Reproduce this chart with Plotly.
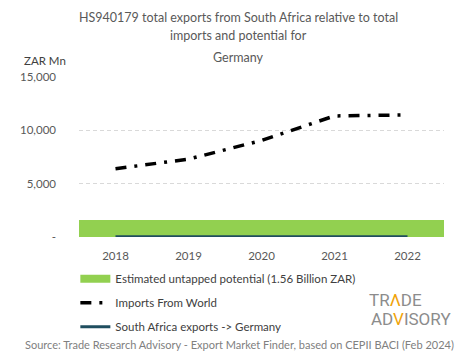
import plotly.graph_objects as go

years = ["2018", "2019", "2020", "2021", "2022"]
imports_world = [6400, 7300, 9050, 11350, 11450]
sa_exports = [20, 25, 35, 40, 35]
untapped_potential = [1560, 1560, 1560, 1560, 1560]

ytick_vals = [0, 5000, 10000, 15000]
ytick_text = ["-", "5,000", "10,000", "15,000"]

title_lines = [
    "HS940179 total exports from South Africa relative to total",
    "imports and potential for",
    "Germany",
]

FONT = "Lato"
GREEN = "#92D050"
TEAL = "#1F4E5F"

# page has an 8px body margin; figure is laid out in (reference - 8px) coords
PX0, PY0, PW, PH = 68, 237, 376, 160  # plot area in reference pixels (left, bottom, w, h)


def px(x):
    return (x - PX0) / PW


def py(y):
    return (PY0 - y) / PH


fig = go.Figure()

fig.add_trace(go.Bar(
    x=years, y=untapped_potential, width=1,
    marker=dict(color=GREEN, line=dict(width=0)),
    name="Estimated untapped potential (1.56 Billion ZAR)",
    showlegend=False, legendgroup="g1", hoverinfo="skip",
))
fig.add_trace(go.Scatter(
    x=[None], y=[None], mode="lines",
    line=dict(color=GREEN, width=8),
    name="Estimated untapped potential (1.56 Billion ZAR)",
    legendgroup="g1",
))
fig.add_trace(go.Scatter(
    x=years, y=imports_world, mode="lines",
    line=dict(color="black", width=3.5, dash="11px,8px,3px,8px"),
    name="Imports From World", legendgroup="g2",
))
fig.add_trace(go.Scatter(
    x=years, y=sa_exports, mode="lines",
    line=dict(color=TEAL, width=3),
    name="South Africa exports -> Germany", legendgroup="g3",
))

annotations = []
# first title line anchored at the very top of the figure so it is not clipped
annotations.append(dict(
    text=title_lines[0], xref="paper", yref="paper",
    x=px(232), y=py(8.5),
    xanchor="center", yanchor="top", showarrow=False,
    font=dict(family=FONT, size=12.5, color="#595959"),
))
for t, yy in zip(title_lines[1:], [35, 57]):
    annotations.append(dict(
        text=t, xref="paper", yref="paper",
        x=px(232), y=py(yy),
        xanchor="center", yanchor="middle", showarrow=False,
        font=dict(family=FONT, size=12.5, color="#595959"),
    ))
annotations.append(dict(
    text="ZAR Mn", xref="paper", yref="paper",
    x=px(9), y=py(60),
    xanchor="left", yanchor="middle", showarrow=False,
    font=dict(family=FONT, size=11.5, color="#404040"),
))
annotations.append(dict(
    text="Source: Trade Research Advisory - Export Market Finder, based on CEPII BACI (Feb 2024)",
    xref="paper", yref="paper",
    x=px(233), y=py(344),
    xanchor="center", yanchor="middle", showarrow=False,
    font=dict(family=FONT, size=11, color="#808080"),
))
annotations.append(dict(
    text="TR<span style='color:#F0A30A'>Λ</span>DE",
    xref="paper", yref="paper",
    x=px(365), y=py(300),
    xanchor="left", yanchor="middle", showarrow=False,
    font=dict(family="Roboto", size=17, color="#8C8C8C"),
))
annotations.append(dict(
    text="AD<span style='color:#F0A30A'>V</span>ISORY",
    xref="paper", yref="paper",
    x=px(367), y=py(319),
    xanchor="left", yanchor="middle", showarrow=False,
    font=dict(family="Roboto", size=17, color="#8C8C8C"),
))

fig.update_layout(
    width=457, height=351,
    margin=dict(l=60, r=21, t=69, b=122),
    paper_bgcolor="white", plot_bgcolor="white",
    font=dict(family=FONT, size=11, color="#595959"),
    bargap=0,
    showlegend=True,
    legend=dict(
        x=-0.01, y=-0.17, xanchor="left", yanchor="top",
        traceorder="grouped", tracegroupgap=5,
        itemwidth=30, bgcolor="rgba(0,0,0,0)",
        font=dict(family=FONT, size=11.5, color="#404040"),
    ),
    annotations=annotations,
)
fig.update_xaxes(
    type="category", range=[-0.5, 4.5],
    showgrid=False, showline=False, zeroline=False, ticks="",
    tickfont=dict(family=FONT, size=11.5, color="#595959"),
    ticklabelstandoff=10,
)
fig.update_yaxes(
    range=[0, 15000], tickvals=ytick_vals, ticktext=ytick_text,
    showgrid=True, gridcolor="#D9D9D9", griddash="4px,3px", gridwidth=1,
    zeroline=False, showline=False, ticks="",
    tickfont=dict(family=FONT, size=11.5, color="#595959"),
    ticklabelstandoff=22,
)

fig.write_html("out.html")
